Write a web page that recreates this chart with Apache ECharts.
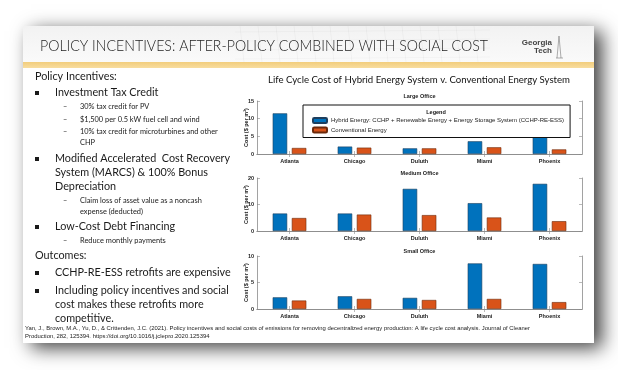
<!DOCTYPE html>
<html><head><meta charset="utf-8">
<script src="https://cdn.jsdelivr.net/npm/echarts@6/dist/echarts.min.js"></script>
<style>html,body{margin:0;padding:0;background:#fff}#c{width:618px;height:370px}</style>
</head><body><div id="c"></div>
<script>
// ---- data ----
const categories = ['Atlanta', 'Chicago', 'Duluth', 'Miami', 'Phoenix'];
const panelTitles = ['Large Office', 'Medium Office', 'Small Office'];
const largeHybrid = [11.5, 2.1, 1.6, 3.6, 4.8];
const largeConv = [1.7, 1.8, 1.6, 1.9, 1.3];
const mediumHybrid = [6.6, 6.6, 15.9, 10.5, 17.8];
const mediumConv = [4.9, 6.2, 6.0, 5.1, 3.7];
const smallHybrid = [2.2, 2.4, 2.1, 8.6, 8.5];
const smallConv = [1.6, 1.9, 1.7, 1.9, 1.3];
const yMax = [15, 20, 10];
const yInterval = [5, 10, 5];
const seriesNames = ['Hybrid Energy: CCHP + Renewable Energy + Energy Storage System (CCHP-RE-ESS)', 'Conventional Energy'];

const hybridData = [largeHybrid, mediumHybrid, smallHybrid];
const convData = [largeConv, mediumConv, smallConv];

// ---- layout ----
const gridTops = [101, 178, 256];
const gridH = 53;
const gridLeft = 257, gridW = 325;
const BLUE = '#0072BD', ORANGE = '#D95319';
const AX = '#8a8a8a';
const CF = 'Liberation Sans';
const SF = 'Lato';

const mctx = document.createElement('canvas').getContext('2d');
function measure(t, font) { mctx.font = font; return mctx.measureText(t).width; }

const graphic = [];
// slide with shadow
graphic.push({ type: 'rect', z: -5, shape: { x: 23, y: 26, width: 571, height: 317 },
  style: { fill: '#fff', shadowBlur: 18, shadowColor: 'rgba(0,0,0,0.75)', shadowOffsetX: 8, shadowOffsetY: 5 } });
// header
graphic.push({ type: 'rect', z: -4, shape: { x: 23, y: 26, width: 571, height: 36 },
  style: { fill: { type: 'linear', x: 0, y: 0, x2: 0, y2: 1, colorStops: [{ offset: 0, color: '#f2f2f2' }, { offset: 1, color: '#fafafa' }] } } });
// faint grid texture in header
for (let i = 0; i < 14; i++) {
  graphic.push({ type: 'line', z: -3, shape: { x1: 240 + i * 18, y1: 26, x2: 244 + i * 18, y2: 62 }, style: { stroke: 'rgba(0,0,0,0.06)', lineWidth: 0.6 } });
}
for (let j = 0; j < 4; j++) {
  graphic.push({ type: 'line', z: -3, shape: { x1: 235, y1: 32 + j * 9, x2: 490, y2: 30 + j * 9 }, style: { stroke: 'rgba(0,0,0,0.05)', lineWidth: 0.6 } });
}
// yellow band
graphic.push({ type: 'rect', z: -3, shape: { x: 23, y: 62, width: 571, height: 6 },
  style: { fill: { type: 'linear', x: 0, y: 0, x2: 0, y2: 1, colorStops: [{ offset: 0, color: '#f2cd7c' }, { offset: 1, color: '#f8dd9f' }] } } });

// title (condensed to fit)
const titleText = 'POLICY INCENTIVES: AFTER-POLICY COMBINED WITH SOCIAL COST';
const titleFont = '300 15px ' + SF;
const tw = measure(titleText, titleFont);
graphic.push({ type: 'text', z: 1, x: 40, y: 46, scaleX: 448 / tw,
  style: { text: titleText, font: titleFont, fill: '#222', verticalAlign: 'middle', align: 'left' } });
// logo
graphic.push({ type: 'text', z: 1, x: 552, y: 43, style: { text: 'Georgia', font: 'bold 8px ' + CF, fill: '#444', align: 'right', verticalAlign: 'middle' } });
graphic.push({ type: 'text', z: 1, x: 552, y: 51, style: { text: 'Tech', font: 'bold 8px ' + CF, fill: '#444', align: 'right', verticalAlign: 'middle' } });
graphic.push({ type: 'polyline', z: 1, shape: { points: [[557, 58], [559, 36], [561, 58]] }, style: { stroke: '#777', lineWidth: 0.6, fill: null } });
graphic.push({ type: 'line', z: 1, shape: { x1: 556, y1: 58, x2: 563, y2: 58 }, style: { stroke: '#777', lineWidth: 0.6 } });

// left text
const big = '10.8px ' + SF, small = '7.4px ' + SF;
const leftLines = [
  { t: 'Policy Incentives:', x: 35, y: 77, f: big },
  { t: 'Investment Tax Credit', x: 55, y: 93, f: big, b: 1 },
  { t: '30% tax credit for PV', x: 80, y: 107, f: small, d: 1 },
  { t: '$1,500 per 0.5 kW fuel cell and wind', x: 80, y: 120, f: small, d: 1 },
  { t: '10% tax credit for microturbines and other', x: 80, y: 132, f: small, d: 1 },
  { t: 'CHP', x: 80, y: 143, f: small },
  { t: 'Modified Accelerated  Cost Recovery', x: 55, y: 159, f: big, b: 1 },
  { t: 'System (MARCS) & 100% Bonus', x: 55, y: 173, f: big },
  { t: 'Depreciation', x: 55, y: 187, f: big },
  { t: 'Claim loss of asset value as a noncash', x: 80, y: 201, f: small, d: 1 },
  { t: 'expense (deducted)', x: 80, y: 212, f: small },
  { t: 'Low-Cost Debt Financing', x: 55, y: 227, f: big, b: 1 },
  { t: 'Reduce monthly payments', x: 80, y: 241, f: small, d: 1 },
  { t: 'Outcomes:', x: 35, y: 256, f: big },
  { t: 'CCHP-RE-ESS retrofits are expensive', x: 55, y: 273, f: big, b: 1 },
  { t: 'Including policy incentives and social', x: 55, y: 291, f: big, b: 1 },
  { t: 'cost makes these retrofits more', x: 55, y: 305, f: big },
  { t: 'competitive.', x: 55, y: 319, f: big }
];
leftLines.forEach(l => {
  graphic.push({ type: 'text', z: 1, x: l.x, y: l.y, style: { text: l.t, font: l.f, fill: '#1a1a1a', verticalAlign: 'middle', align: 'left' } });
  if (l.b) graphic.push({ type: 'rect', z: 1, shape: { x: 35, y: l.y - 2, width: 4, height: 4 }, style: { fill: '#1a1a1a' } });
  if (l.d) graphic.push({ type: 'text', z: 1, x: 63, y: l.y, style: { text: '–', font: small, fill: '#1a1a1a', verticalAlign: 'middle', align: 'left' } });
});
const cite1 = 'Yan, J., Brown, M.A., Yu, D., & Crittenden, J.C. (2021). Policy incentives and social costs of emissions for removing decentralized energy production: A life cycle cost analysis. Journal of Cleaner';
const cite2 = 'Production, 282, 125394. https://doi.org/10.1016/j.jclepro.2020.125394';
const cf = '4.6px ' + CF;
const cw = measure(cite1, cf);
graphic.push({ type: 'text', z: 1, x: 25, y: 329, scaleX: 505 / cw, style: { text: cite1, font: cf, fill: '#222', verticalAlign: 'middle', align: 'left' } });
graphic.push({ type: 'text', z: 1, x: 25, y: 337, scaleX: 505 / cw, style: { text: cite2, font: cf, fill: '#222', verticalAlign: 'middle', align: 'left' } });

// chart title
const ctText = 'Life Cycle Cost of Hybrid Energy System v. Conventional Energy System';
const ctFont = '9.5px ' + SF;
const ctw = measure(ctText, ctFont);
graphic.push({ type: 'text', z: 1, x: 419, y: 80, scaleX: 302 / ctw, originX: 0,
  style: { text: ctText, font: ctFont, fill: '#111', verticalAlign: 'middle', align: 'center' } });
// legend title
graphic.push({ type: 'text', z: 10, x: 436, y: 112, style: { text: 'Legend', font: 'bold 5.5px ' + CF, fill: '#111', verticalAlign: 'middle', align: 'center' } });

const grids = [], xAxes = [], yAxes = [], series = [], titles = [];
for (let i = 0; i < 3; i++) {
  grids.push({ left: gridLeft, top: gridTops[i], width: gridW, height: gridH, show: false });
  titles.push({ text: panelTitles[i], left: gridLeft + gridW / 2, top: gridTops[i] - 7.5, textAlign: 'center', padding: 0,
    textStyle: { fontSize: 5.5, fontWeight: 'bold', fontFamily: CF, color: '#222' } });
  const base = { type: 'category', data: categories, gridIndex: i, boundaryGap: true,
    axisLine: { show: true, lineStyle: { color: AX, width: 0.8 } },
    axisTick: { show: true, inside: true, alignWithLabel: true, length: 3, lineStyle: { color: AX, width: 0.6 } } };
  xAxes.push(Object.assign({}, base, { position: 'bottom',
    axisLabel: { fontSize: 5.5, fontWeight: 'bold', fontFamily: CF, color: '#222', margin: 4 } }));
  xAxes.push(Object.assign({}, base, { position: 'top', axisLabel: { show: false } }));
  const ybase = { type: 'value', gridIndex: i, min: 0, max: yMax[i], interval: yInterval[i], splitLine: { show: false },
    axisLine: { show: true, lineStyle: { color: AX, width: 0.8 } },
    axisTick: { show: true, inside: true, length: 3, lineStyle: { color: AX, width: 0.6 } } };
  yAxes.push(Object.assign({}, ybase, { position: 'left',
    axisLabel: { fontSize: 5.5, fontWeight: 'bold', fontFamily: CF, color: '#222', margin: 3 },
    name: 'Cost ($ per m²)', nameLocation: 'middle', nameGap: 8, nameMoveOverlap: false,
    nameTextStyle: { fontSize: 5.5, fontWeight: 'bold', fontFamily: CF, color: '#222' } }));
  yAxes.push(Object.assign({}, ybase, { position: 'right', axisLabel: { show: false } }));
  const bs = { type: 'bar', xAxisIndex: i * 2, yAxisIndex: i * 2, barWidth: 14.5, barGap: '32%' };
  series.push(Object.assign({}, bs, { name: seriesNames[0], data: hybridData[i],
    itemStyle: { color: BLUE, borderColor: '#1d3f5e', borderWidth: 0.6 } }));
  series.push(Object.assign({}, bs, { name: seriesNames[1], data: convData[i],
    itemStyle: { color: ORANGE, borderColor: '#6b2a0c', borderWidth: 0.6 } }));
}

const option = {
  animation: false,
  backgroundColor: '#ffffff',
  title: titles,
  graphic: { elements: graphic },
  legend: {
    data: seriesNames, left: 303, top: 105, orient: 'vertical', z: 9,
    padding: [12, 6, 4, 9], itemGap: 2.5, itemWidth: 14, itemHeight: 5,
    backgroundColor: '#fff', borderColor: '#111', borderWidth: 1, borderRadius: 0,
    textStyle: { fontSize: 6, fontFamily: CF, color: '#222', padding: [0, 0, 0, -1] },
    selectedMode: false
  },
  grid: grids, xAxis: xAxes, yAxis: yAxes, series: series
};
const chart = echarts.init(document.getElementById('c'), null, { renderer: 'canvas' });
chart.setOption(option);
</script></body></html>
